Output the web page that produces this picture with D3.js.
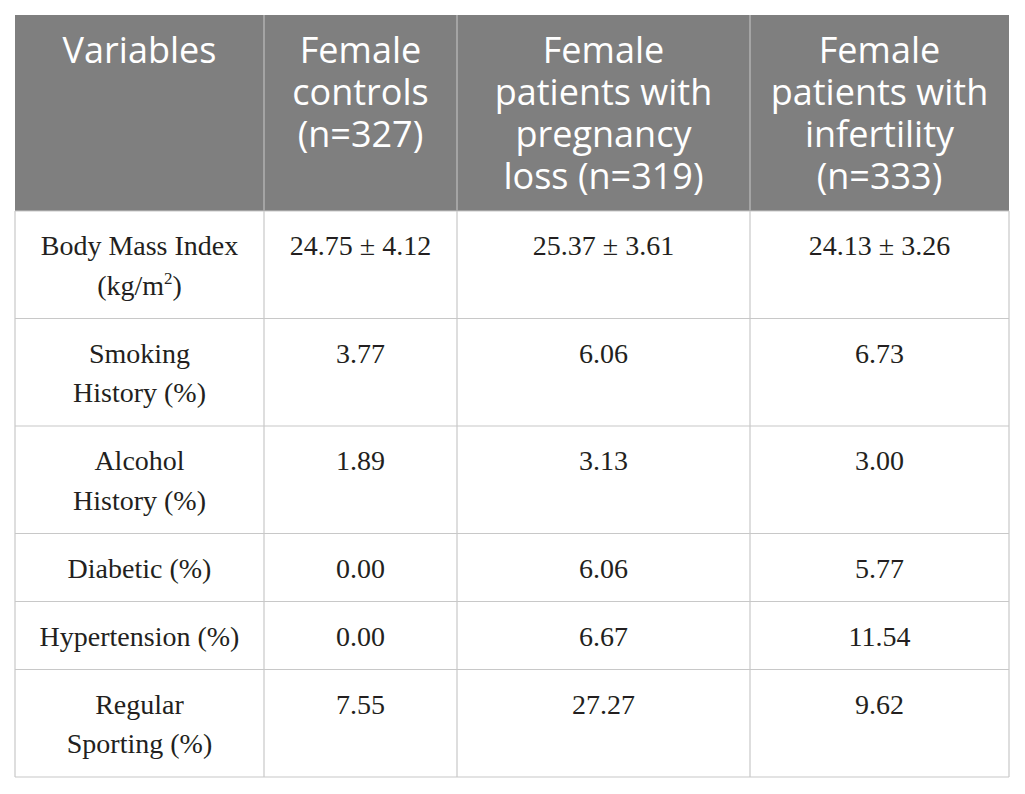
<!DOCTYPE html>
<html>
<head>
<meta charset="utf-8">
<script src="https://cdn.jsdelivr.net/npm/d3@7"></script>
<style>
  body { margin: 0; background: #fff; }
</style>
</head>
<body>
<svg id="chart"></svg>
<script>
// table content
var headers = [
  ["Variables"],
  ["Female", "controls", "(n=327)"],
  ["Female", "patients with", "pregnancy", "loss (n=319)"],
  ["Female", "patients with", "infertility", "(n=333)"]
];

var variables = [
  ["Body Mass Index", "(kg/m^2)"],
  ["Smoking", "History (%)"],
  ["Alcohol", "History (%)"],
  ["Diabetic (%)"],
  ["Hypertension (%)"],
  ["Regular", "Sporting (%)"]
];

var controls    = ["24.75 ± 4.12", "3.77", "1.89", "0.00", "0.00", "7.55"];
var pregnancy   = ["25.37 ± 3.61", "6.06", "3.13", "6.06", "6.67", "27.27"];
var infertility = ["24.13 ± 3.26", "6.73", "3.00", "5.77", "11.54", "9.62"];

var width = 1025, height = 794;
var leftX = 15, topY = 15, headH = 196;
var colW = [249, 193, 293, 259];
var lineH = 39.5;

var svg = d3.select("#chart").attr("width", width).attr("height", height);

// column edges
var edges = [leftX];
colW.forEach(function(w, i) { edges.push(edges[i] + w); });
var x = d3.scaleOrdinal().domain(d3.range(4)).range(edges.slice(0, 4));

// row tops from number of lines
var rowH = variables.map(function(v) { return 28.5 + lineH * v.length; });
var rowTop = [topY + headH];
rowH.forEach(function(h, i) { rowTop.push(rowTop[i] + h); });
var bottom = rowTop[rowTop.length - 1];
var rightX = edges[4];

// header background
svg.append("rect")
  .attr("x", leftX).attr("y", topY)
  .attr("width", rightX - leftX).attr("height", headH)
  .attr("fill", "#7f7f7f");

// grid lines
var grid = svg.append("g").attr("stroke", "#c8c8c8").attr("stroke-width", 1.2);
edges.forEach(function(e, i) {
  grid.append("line")
    .attr("x1", e).attr("x2", e)
    .attr("y1", (i === 0 || i === 4) ? topY + headH : topY).attr("y2", bottom);
});
// header separators on grey
edges.slice(1, 4).forEach(function(e) {
  svg.append("line")
    .attr("x1", e).attr("x2", e).attr("y1", topY).attr("y2", topY + headH)
    .attr("stroke", "#a0a0a0").attr("stroke-width", 1.2);
});
rowTop.forEach(function(t) {
  grid.append("line").attr("x1", leftX).attr("x2", rightX).attr("y1", t).attr("y2", t);
});

// header text, one text element per line
headers.forEach(function(lines, c) {
  var cx = x(c) + colW[c] / 2;
  svg.append("g").selectAll("text")
    .data(lines)
    .enter().append("text")
    .attr("x", cx)
    .attr("y", function(d, i) { return topY + 48 + i * 42; })
    .attr("text-anchor", "middle")
    .attr("fill", "#ffffff")
    .style("font-family", "'Open Sans', sans-serif")
    .style("font-size", "36px")
    .text(function(d) { return d; });
});

// body cells
var columns = [variables, controls, pregnancy, infertility];
var serif = "'Liberation Serif', 'Times New Roman', serif";

columns.forEach(function(col, c) {
  var cx = x(c) + colW[c] / 2;
  col.forEach(function(d, r) {
    var lines = Array.isArray(d) ? d : [d];
    lines.forEach(function(l, i) {
      var parts = l.split("^");
      var t = svg.append("text")
        .attr("x", cx)
        .attr("y", rowTop[r] + 44 + i * lineH)
        .attr("text-anchor", "middle")
        .attr("fill", "#231f20")
        .style("font-family", serif)
        .style("font-size", "28px");
      t.append("tspan").text(parts[0]);
      if (parts.length > 1) {
        // superscript, e.g. m^2
        t.append("tspan").attr("dy", -11).style("font-size", "17px").text(parts[1].charAt(0));
        t.append("tspan").attr("dy", 11).text(parts[1].slice(1));
      }
    });
  });
});
</script>
</body>
</html>
